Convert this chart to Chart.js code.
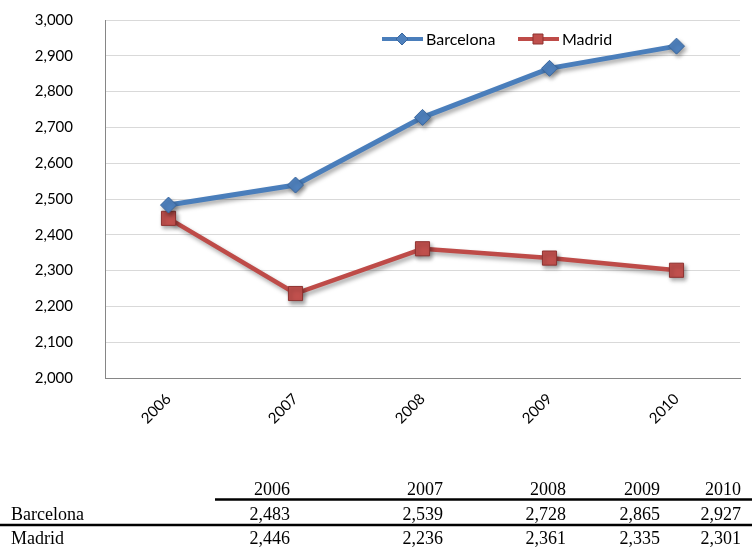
<!DOCTYPE html>
<html>
<head>
<meta charset="utf-8">
<script src="https://cdn.jsdelivr.net/npm/chart.js@4/dist/chart.umd.min.js"></script>
<style>
  html, body { margin: 0; padding: 0; background: #ffffff; }
  #wrap { width: 752px; height: 551px; position: relative; }
</style>
</head>
<body>
<div id="wrap"><canvas id="c" width="752" height="551"></canvas></div>
<script>
// Yearly figures for the two cities
const years = ['2006', '2007', '2008', '2009', '2010'];
const barcelona = [2483, 2539, 2728, 2865, 2927];
const madrid = [2446, 2236, 2361, 2335, 2301];
const seriesNames = ['Barcelona', 'Madrid'];

const BLUE = '#4a7ebb';
const RED = '#be4b48';

const fmt = v => v.toLocaleString('en-US');

// Soft drop shadow under the lines and markers
const shadowPlugin = {
  id: 'lineShadow',
  beforeDatasetsDraw(chart) {
    const ctx = chart.ctx;
    ctx.save();
    ctx.shadowColor = 'rgba(0,0,0,0.35)';
    ctx.shadowBlur = 4;
    ctx.shadowOffsetX = 2;
    ctx.shadowOffsetY = 3;
  },
  afterDatasetsDraw(chart) {
    chart.ctx.restore();
  }
};

function drawMarker(ctx, style, x, y, r, fill, stroke) {
  ctx.beginPath();
  if (style === 'rectRot') {
    ctx.moveTo(x, y - r);
    ctx.lineTo(x + r, y);
    ctx.lineTo(x, y + r);
    ctx.lineTo(x - r, y);
    ctx.closePath();
  } else {
    ctx.rect(x - r, y - r, 2 * r, 2 * r);
  }
  ctx.fillStyle = fill;
  ctx.fill();
  ctx.lineWidth = 1;
  ctx.strokeStyle = stroke;
  ctx.stroke();
}

// Legend inside the plot: line sample with marker, then the series name
const legendPlugin = {
  id: 'lineLegend',
  afterDraw(chart) {
    const ctx = chart.ctx;
    const y = 39;
    const items = [
      { x: 382, ds: chart.data.datasets[0], style: 'rectRot', r: 6 },
      { x: 518, ds: chart.data.datasets[1], style: 'rect', r: 5 }
    ];
    ctx.save();
    items.forEach(it => {
      ctx.strokeStyle = it.ds.borderColor;
      ctx.lineWidth = 4;
      ctx.beginPath();
      ctx.moveTo(it.x, y);
      ctx.lineTo(it.x + 41, y);
      ctx.stroke();
      drawMarker(ctx, it.style, it.x + 20, y, it.r, it.ds.pointBackgroundColor, it.ds.pointBorderColor);
      ctx.fillStyle = '#000000';
      ctx.font = '16px Lato';
      ctx.textAlign = 'left';
      ctx.textBaseline = 'middle';
      ctx.fillText(it.ds.label, it.x + 44, y + 1);
    });
    ctx.restore();
  }
};

// Data table under the chart
const colRight = [290, 443, 566, 660, 741];
const tablePlugin = {
  id: 'dataTable',
  afterDraw(chart) {
    const ctx = chart.ctx;
    ctx.save();
    ctx.fillStyle = '#000000';
    ctx.font = '18px "Liberation Serif"';
    ctx.textBaseline = 'alphabetic';
    ctx.textAlign = 'right';
    years.forEach((yr, i) => ctx.fillText(yr, colRight[i], 495));
    const rows = [barcelona, madrid];
    const baselines = [520, 544];
    rows.forEach((vals, r) => {
      ctx.textAlign = 'left';
      ctx.fillText(seriesNames[r], 11, baselines[r]);
      ctx.textAlign = 'right';
      vals.forEach((v, i) => ctx.fillText(fmt(v), colRight[i], baselines[r]));
    });
    ctx.strokeStyle = '#000000';
    ctx.lineWidth = 2.5;
    ctx.beginPath();
    ctx.moveTo(215, 499.5);
    ctx.lineTo(752, 499.5);
    ctx.moveTo(0, 525);
    ctx.lineTo(752, 525);
    ctx.stroke();
    ctx.restore();
  }
};

new Chart(document.getElementById('c'), {
  type: 'line',
  data: {
    labels: years,
    datasets: [
      {
        label: seriesNames[0],
        data: barcelona,
        borderColor: BLUE,
        borderWidth: 5,
        pointStyle: 'rectRot',
        pointRadius: 8,
        pointBackgroundColor: '#4f81bd',
        pointBorderColor: '#3a679e',
        pointBorderWidth: 1,
        tension: 0
      },
      {
        label: seriesNames[1],
        data: madrid,
        borderColor: RED,
        borderWidth: 4.5,
        pointStyle: 'rect',
        pointRadius: 10,
        pointBackgroundColor: '#c0504d',
        pointBorderColor: '#8e3331',
        pointBorderWidth: 1,
        tension: 0
      }
    ]
  },
  options: {
    responsive: false,
    animation: false,
    devicePixelRatio: 1,
    layout: { padding: { top: 20, right: 12, bottom: 103, left: 0 } },
    plugins: {
      legend: { display: false },
      tooltip: { enabled: false }
    },
    scales: {
      x: {
        offset: true,
        grid: { display: false, drawTicks: false },
        border: { color: '#868686', width: 1 },
        ticks: {
          color: '#000000',
          font: { family: 'Lato', size: 15 },
          minRotation: 45,
          maxRotation: 45,
          padding: 12
        },
        afterFit(scale) { scale.height = 70; }
      },
      y: {
        min: 2000,
        max: 3000,
        grid: { color: '#d9d9d9', lineWidth: 1, drawTicks: false },
        border: { color: '#868686', width: 1 },
        ticks: {
          stepSize: 100,
          color: '#000000',
          font: { family: 'Lato', size: 15 },
          padding: 32,
          callback: v => fmt(v)
        },
        afterFit(scale) {
          scale.width = 105;
          scale.paddingTop = 0;
          scale.paddingBottom = 0;
        }
      }
    }
  },
  plugins: [shadowPlugin, legendPlugin, tablePlugin]
});
</script>
</body>
</html>
